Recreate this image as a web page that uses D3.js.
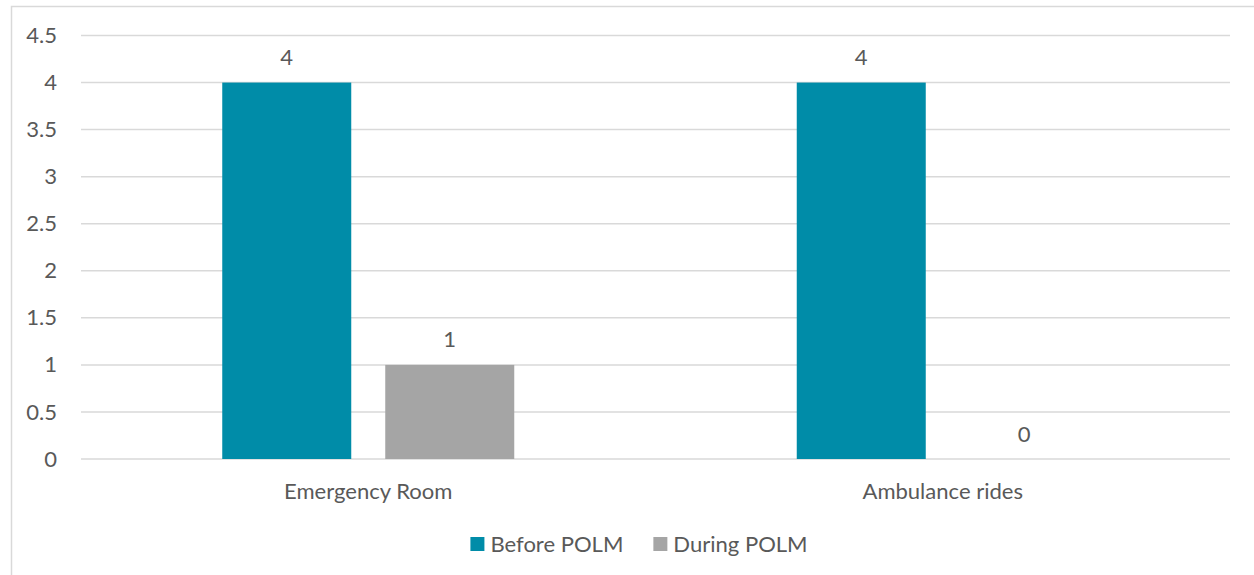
<!DOCTYPE html>
<html>
<head>
<meta charset="utf-8">
<script src="https://cdn.jsdelivr.net/npm/d3@7"></script>
<style>
  html, body { margin: 0; padding: 0; background: #fff; }
  svg { display: block; }
</style>
</head>
<body>
<svg id="chart" width="1254" height="575"></svg>
<script>
// Chart data
const categories = ["Emergency Room", "Ambulance rides"];
const seriesNames = ["Before POLM", "During POLM"];
const beforeValues = [4, 4];
const duringValues = [1, 0];
const yTickValues = [0, 0.5, 1, 1.5, 2, 2.5, 3, 3.5, 4, 4.5];
const yTickLabels = ["0", "0.5", "1", "1.5", "2", "2.5", "3", "3.5", "4", "4.5"];

const seriesColors = { "Before POLM": "#008CA8", "During POLM": "#A5A5A5" };
const textColor = "#595959";
const gridColor = "#D9D9D9";
const fontFamily = "Lato, 'Open Sans', sans-serif";
const fontSize = 21;
const stretchX = 1.05;

const svg = d3.select("#chart");

// Chart-area frame
svg.append("rect")
  .attr("x", 11.5).attr("y", 6.5)
  .attr("width", 1256).attr("height", 600)
  .attr("fill", "#fff")
  .attr("stroke", gridColor)
  .attr("stroke-width", 1.5);

const plot = { left: 81, right: 1230, top: 35.5, bottom: 459 };

const y = d3.scaleLinear().domain([0, 4.5]).range([plot.bottom, plot.top]);
const x0 = d3.scaleBand().domain(categories).range([plot.left, plot.right]).padding(0);
const groupWidth = 292;
const x1 = d3.scaleBand().domain(seriesNames)
  .range([(x0.bandwidth() - groupWidth) / 2, (x0.bandwidth() + groupWidth) / 2])
  .paddingInner(34 / 163).paddingOuter(0);

// Horizontally stretched text helper
function label(parent, tx, ty, str, anchor) {
  const g = parent.append("g").attr("transform", `translate(${tx},${ty})`);
  const t = g.append("text")
    .attr("transform", `scale(${stretchX},1)`)
    .attr("text-anchor", anchor || "middle")
    .attr("dy", "0.36em")
    .attr("font-family", fontFamily)
    .attr("font-size", fontSize)
    .attr("fill", textColor)
    .text(str);
  return t;
}

// Gridlines
svg.append("g").selectAll("line")
  .data(yTickValues)
  .join("line")
  .attr("x1", plot.left).attr("x2", plot.right)
  .attr("y1", d => y(d)).attr("y2", d => y(d))
  .attr("stroke", gridColor)
  .attr("stroke-width", 1.5);

// Y tick labels
const yLabels = svg.append("g");
yTickValues.forEach((v, i) => label(yLabels, 57, y(v), yTickLabels[i], "end"));

// Bars
const rows = categories.map((c, i) => ({
  category: c,
  values: [
    { series: seriesNames[0], value: beforeValues[i] },
    { series: seriesNames[1], value: duringValues[i] }
  ]
}));

const groups = svg.append("g").selectAll("g")
  .data(rows)
  .join("g")
  .attr("transform", d => `translate(${x0(d.category)},0)`);

groups.selectAll("rect")
  .data(d => d.values)
  .join("rect")
  .attr("x", d => x1(d.series))
  .attr("width", x1.bandwidth())
  .attr("y", d => y(d.value))
  .attr("height", d => y(0) - y(d.value))
  .attr("fill", d => seriesColors[d.series]);

// Value labels
groups.each(function(d) {
  const g = d3.select(this);
  d.values.forEach(v => {
    label(g, x1(v.series) + x1.bandwidth() / 2, y(v.value) - 25, String(v.value), "middle");
  });
});

// Category labels
const xLabels = svg.append("g");
categories.forEach(c => label(xLabels, x0(c) + x0.bandwidth() / 2, 491, c, "middle"));

// Legend, centred in the chart area
const legend = svg.append("g");
const sw = 14, swGap = 6, itemGap = 30;
const items = seriesNames.map(name => {
  const g = legend.append("g");
  g.append("rect").attr("width", sw).attr("height", sw)
    .attr("y", -sw / 2).attr("fill", seriesColors[name]);
  const t = label(g, sw + swGap, 0, name, "start");
  const w = sw + swGap + t.node().getComputedTextLength() * stretchX;
  return { g, w };
});
const totalW = d3.sum(items, d => d.w) + itemGap * (items.length - 1);
let lx = 639 - totalW / 2;
items.forEach(it => {
  it.g.attr("transform", `translate(${lx},544)`);
  lx += it.w + itemGap;
});
</script>
</body>
</html>
